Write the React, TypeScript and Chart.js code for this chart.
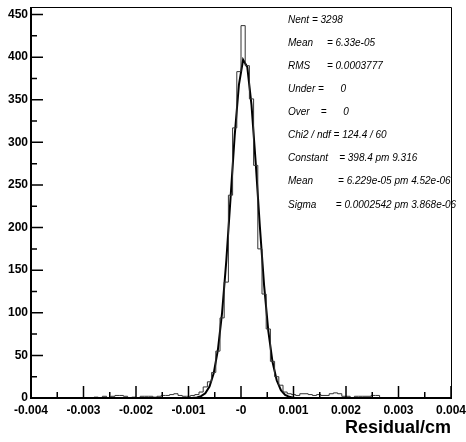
import React, { useEffect, useRef } from "react";
import { Chart, registerables } from "chart.js";

Chart.register(...registerables);

// ---- data ----
const BIN_MIN = -0.004;
const BIN_WIDTH = 0.00008;
const COUNTS = [
  0, 0, 0, 0, 0, 0, 0, 0, 0, 0,
  0, 0, 0, 0, 0, 1, 0, 2, 0, 2,
  3, 3, 2, 0, 1, 0, 2, 2, 2, 1,
  2, 3, 3, 4, 5, 3, 2, 2, 3, 4,
  7, 13, 19, 30, 55, 94, 136, 238, 317, 383,
  437, 390, 351, 273, 175, 122, 81, 43, 25, 15,
  7, 5, 4, 3, 5, 5, 4, 3, 4, 3,
  3, 5, 6, 5, 2, 2, 0, 2, 2, 2,
  2, 3, 3, 0, 0, 0, 0, 0, 0, 0,
  0, 0, 0, 0, 0, 0, 0, 0, 0, 0,
];
const FIT_FIRST_BIN = 35;
const FIT_VALUES = [
  0.004, 0.016, 0.064, 0.23, 0.73, 2.13, 5.61, 13.37, 28.9, 56.6,
  100.3, 160.9, 234.0, 308.1, 367.4, 396.9, 388.3, 344.0, 276.1, 200.7,
  132.1, 78.8, 42.5, 20.8, 9.21, 3.7, 1.34, 0.44, 0.13, 0.036,
];
const X_MIN = -0.004;
const X_MAX = 0.004;
const Y_MAX = 458.85;
const X_TICK_VALUES = [-0.004, -0.003, -0.002, -0.001, 0, 0.001, 0.002, 0.003, 0.004];
const X_TICK_LABELS = ["-0.004", "-0.003", "-0.002", "-0.001", "-0", "0.001", "0.002", "0.003", "0.004"];
const X_MINOR_VALUES = [-0.0035, -0.0025, -0.0015, -0.0005, 0.0005, 0.0015, 0.0025, 0.0035];
const Y_TICK_VALUES = [0, 50, 100, 150, 200, 250, 300, 350, 400, 450];
const Y_MINOR_VALUES = [25, 75, 125, 175, 225, 275, 325, 375, 425];
const X_TITLE = "Residual/cm";
const STATS_LINES = [
  "Nent = 3298",
  "Mean     = 6.33e-05",
  "RMS      = 0.0003777",
  "Under =      0",
  "Over    =      0",
  "Chi2 / ndf = 124.4 / 60",
  "Constant    = 398.4 pm 9.316",
  "Mean         = 6.229e-05 pm 4.52e-06",
  "Sigma       = 0.0002542 pm 3.868e-06",
];

const FONT = "'Liberation Sans', Arial, Helvetica, sans-serif";

const rootStyle = {
  id: "rootStyle",
  afterDatasetsDraw(chart: any) {
    const ctx = chart.ctx as CanvasRenderingContext2D;
    const { left, right, top, bottom } = chart.chartArea;
    const xs = chart.scales.x;
    const ys = chart.scales.y;
    ctx.save();
    ctx.strokeStyle = "#000";
    // frame top/right
    ctx.lineWidth = 1;
    ctx.beginPath();
    ctx.moveTo(left, top + 0.5);
    ctx.lineTo(right + 0.5, top + 0.5);
    ctx.lineTo(right + 0.5, bottom);
    ctx.stroke();
    // axes
    ctx.lineWidth = 2;
    ctx.beginPath();
    ctx.moveTo(left, top);
    ctx.lineTo(left, bottom);
    ctx.lineTo(right + 1, bottom);
    ctx.stroke();
    // ticks (drawn inside the frame)
    ctx.lineWidth = 1.5;
    ctx.beginPath();
    X_TICK_VALUES.forEach((v) => {
      const px = xs.getPixelForValue(v);
      ctx.moveTo(px, bottom);
      ctx.lineTo(px, bottom - 12);
    });
    X_MINOR_VALUES.forEach((v) => {
      const px = xs.getPixelForValue(v);
      ctx.moveTo(px, bottom);
      ctx.lineTo(px, bottom - 6);
    });
    Y_TICK_VALUES.forEach((v) => {
      const py = ys.getPixelForValue(v);
      ctx.moveTo(left, py);
      ctx.lineTo(left + 12, py);
    });
    Y_MINOR_VALUES.forEach((v) => {
      const py = ys.getPixelForValue(v);
      ctx.moveTo(left, py);
      ctx.lineTo(left + 6, py);
    });
    ctx.stroke();
    // stats text
    ctx.fillStyle = "#000";
    ctx.font = `italic 10px ${FONT}`;
    ctx.textAlign = "left";
    ctx.textBaseline = "middle";
    STATS_LINES.forEach((s, i) => {
      ctx.fillText(s, 288, 20 + i * 23.1);
    });
    ctx.restore();
  },
};

export default function App() {
  const ref = useRef<HTMLCanvasElement | null>(null);
  useEffect(() => {
    document.body.style.margin = "0";
    if (!ref.current) return;
    const histData = COUNTS.map((c, i) => ({ x: BIN_MIN + i * BIN_WIDTH, y: c }));
    histData.push({ x: BIN_MIN + COUNTS.length * BIN_WIDTH, y: COUNTS[COUNTS.length - 1] });
    const fitData = [{ x: X_MIN, y: 0 }];
    FIT_VALUES.forEach((v, i) => {
      fitData.push({ x: BIN_MIN + (FIT_FIRST_BIN + i + 0.5) * BIN_WIDTH, y: v });
    });
    fitData.push({ x: X_MAX, y: 0 });

    const chart = new Chart(ref.current, {
      type: "line",
      data: {
        datasets: [
          {
            data: histData,
            stepped: true,
            borderColor: "#333",
            borderWidth: 1,
            pointRadius: 0,
            fill: false,
          },
          {
            data: fitData,
            borderColor: "#000",
            borderWidth: 2,
            pointRadius: 0,
            tension: 0,
            fill: false,
          },
        ],
      },
      options: {
        animation: false,
        responsive: false,
        devicePixelRatio: 1,
        layout: { padding: { top: 7, right: 15, left: 0, bottom: 0 } },
        plugins: { legend: { display: false }, tooltip: { enabled: false } },
        scales: {
          x: {
            type: "linear",
            min: X_MIN,
            max: X_MAX,
            grid: { display: false, drawTicks: false },
            border: { display: false },
            afterBuildTicks: (s: any) => {
              s.ticks = X_TICK_VALUES.map((v) => ({ value: v }));
            },
            afterFit: (s: any) => {
              s.height = 44;
              s.paddingLeft = 0;
              s.paddingRight = 0;
            },
            ticks: {
              autoSkip: false,
              maxRotation: 0,
              minRotation: 0,
              padding: 5,
              color: "#000",
              font: { family: FONT, size: 12, weight: "bold" },
              callback: (_v: any, i: number) => X_TICK_LABELS[i],
            },
            title: {
              display: true,
              text: X_TITLE,
              align: "end",
              color: "#000",
              font: { family: FONT, size: 18, weight: "bold" },
              padding: { top: 0, bottom: 3 },
            },
          },
          y: {
            type: "linear",
            min: 0,
            max: Y_MAX,
            grid: { display: false, drawTicks: false },
            border: { display: false },
            afterBuildTicks: (s: any) => {
              s.ticks = Y_TICK_VALUES.map((v) => ({ value: v }));
            },
            afterFit: (s: any) => {
              s.width = 31;
              s.paddingTop = 0;
              s.paddingBottom = 0;
            },
            ticks: {
              autoSkip: false,
              padding: 3,
              color: "#000",
              font: { family: FONT, size: 12, weight: "bold" },
            },
          },
        },
      },
      plugins: [rootStyle],
    });
    return () => chart.destroy();
  }, []);
  return <canvas ref={ref} width={466} height={442} style={{ display: "block" }} />;
}
